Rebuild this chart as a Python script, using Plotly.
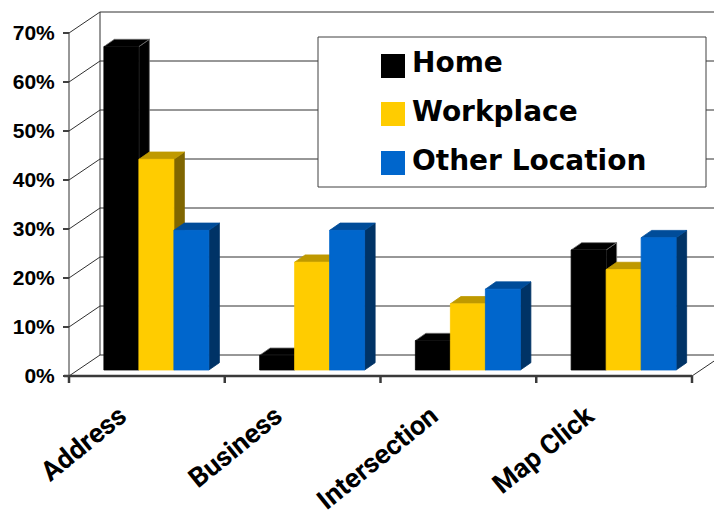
import plotly.graph_objects as go

# ---- data ----
categories = ["Address", "Business", "Intersection", "Map Click"]
series_names = ["Home", "Workplace", "Other Location"]
home = [66, 3, 6, 24.5]
workplace = [43, 22, 13.5, 20.5]
other_location = [28.5, 28.5, 16.5, 27]
y_ticks = [0, 10, 20, 30, 40, 50, 60, 70]
y_tick_labels = [f"{v}%" for v in y_ticks]

series_values = [home, workplace, other_location]

# ---- styling ----
FRONT = ["#000000", "#FFCC00", "#0066CC"]
TOP = ["#000000", "#BF9900", "#004C99"]
SIDE = ["#000000", "#806600", "#003366"]
EDGE = ["#707070", None, None]
LINE = "#303030"

W, H = 714, 517
# pixel layout of the front plane of the 3-D box
AX_LEFT, AX_RIGHT = 69, 692      # x pixels of the first / last category boundary
BASE_PX, TOP_PX = 376, 33        # y pixels of 0% and 70% on the front plane
UX = (AX_RIGHT - AX_LEFT) / len(categories)   # pixels per category
UY = (BASE_PX - TOP_PX) / 70.0                # pixels per percent

x_lo = -0.5 - AX_LEFT / UX
x_hi = -0.5 + (W - AX_LEFT) / UX
y_lo = (BASE_PX - H) / UY
y_hi = BASE_PX / UY

# oblique depth of the walls and of the bars (pixels -> data units)
WALL_DX, WALL_DY = 31 / UX, 21 / UY
BAR_OFF_DX, BAR_OFF_DY = 9.5 / UX, 6 / UY
BAR_DX, BAR_DY = 10.5 / UX, 7.3 / UY
BAR_W = 35 / UX

x_first = -0.5
x_last = len(categories) - 0.5

fig = go.Figure()

# walls, floor and gridlines
gx, gy = [], []
for v in y_ticks:
    gx += [x_first, x_first + WALL_DX, x_last + WALL_DX + 1, None]
    gy += [v, v + WALL_DY, v + WALL_DY, None]
gx += [x_first + WALL_DX, x_first + WALL_DX, None]
gy += [WALL_DY, 70 + WALL_DY, None]
gx += [x_first, x_first, None]
gy += [0, 70, None]
gx += [x_last, x_last + WALL_DX, None]
gy += [0, WALL_DY, None]
fig.add_trace(go.Scatter(x=gx, y=gy, mode="lines", line=dict(color=LINE, width=1),
                         hoverinfo="skip", showlegend=False))

# front edge of the floor with category separators
fx, fy = [x_first - 5 / UX, x_last, None], [0, 0, None]
for k in range(len(categories) + 1):
    b = x_first + k
    fx += [b, b, None]
    fy += [0, -7 / UY, None]
fig.add_trace(go.Scatter(x=fx, y=fy, mode="lines", line=dict(color="#3a3a3a", width=2.5),
                         hoverinfo="skip", showlegend=False))

# 3-D bars: side, top and front faces per series
for s, vals in enumerate(series_values):
    faces = {"side": ([], []), "top": ([], []), "front": ([], [])}
    for i, v in enumerate(vals):
        x0 = i - 1.5 * BAR_W + s * BAR_W + BAR_OFF_DX
        x1 = x0 + BAR_W
        b = BAR_OFF_DY
        t = v + BAR_OFF_DY
        sx, sy = faces["side"]
        sx += [x1, x1 + BAR_DX, x1 + BAR_DX, x1, x1, None]
        sy += [b, b + BAR_DY, t + BAR_DY, t, b, None]
        tx, ty = faces["top"]
        tx += [x0, x1, x1 + BAR_DX, x0 + BAR_DX, x0, None]
        ty += [t, t, t + BAR_DY, t + BAR_DY, t, None]
        ffx, ffy = faces["front"]
        ffx += [x0, x1, x1, x0, x0, None]
        ffy += [b, b, t, t, b, None]
    for face, col in (("side", SIDE[s]), ("top", TOP[s]), ("front", FRONT[s])):
        xs, ys = faces[face]
        edge = EDGE[s] if (EDGE[s] and face != "front") else col
        fig.add_trace(go.Scatter(
            x=xs, y=ys, mode="lines", fill="toself", fillcolor=col,
            line=dict(color=edge, width=0.8), name=series_names[s],
            hoverinfo="skip", showlegend=False))

# legend box
LEG = dict(x0=318, y0=37, x1=706, y1=187)
def px(x):
    return x / W
def py(y):
    return 1 - y / H
fig.add_shape(type="rect", xref="paper", yref="paper",
              x0=px(LEG["x0"]), x1=px(LEG["x1"]), y0=py(LEG["y1"]), y1=py(LEG["y0"]),
              line=dict(color="#404040", width=1), fillcolor="white", layer="above")
leg_rows = [66, 114, 163]
for s, name in enumerate(series_names):
    cy = leg_rows[s]
    fig.add_shape(type="rect", xref="paper", yref="paper",
                  x0=px(381), x1=px(405), y0=py(cy + 12), y1=py(cy - 12),
                  line=dict(width=0), fillcolor=FRONT[s], layer="above")
    fig.add_annotation(xref="paper", yref="paper", x=px(410), y=py(cy - 3),
                       xanchor="left", yanchor="middle", showarrow=False, text=name,
                       font=dict(family="DejaVu Sans", size=28, color="black", weight="bold"))

fig.update_layout(
    width=W, height=H,
    margin=dict(l=0, r=0, t=0, b=0, autoexpand=False),
    paper_bgcolor="white", plot_bgcolor="white",
    showlegend=False,
    xaxis=dict(range=[x_lo, x_hi], anchor="free", position=(H - BASE_PX) / H,
               automargin=False,
               tickvals=list(range(len(categories))), ticktext=categories,
               ticks="", tickangle=-39, showgrid=False, zeroline=False, showline=False,
               ticklabelstandoff=18, ticklabelshift=-27,
               tickfont=dict(family="Roboto", size=27, color="black", weight="bold")),
    yaxis=dict(range=[y_lo, y_hi], anchor="free", position=AX_LEFT / W,
               automargin=False,
               tickvals=y_ticks, ticktext=y_tick_labels,
               ticks="outside", ticklen=6, tickcolor="#404040", tickwidth=1.5,
               ticklabelstandoff=4,
               showgrid=False, zeroline=False, showline=False,
               tickfont=dict(family="Liberation Sans", size=21, color="black", weight="bold")),
)

fig.write_html("out.html")
